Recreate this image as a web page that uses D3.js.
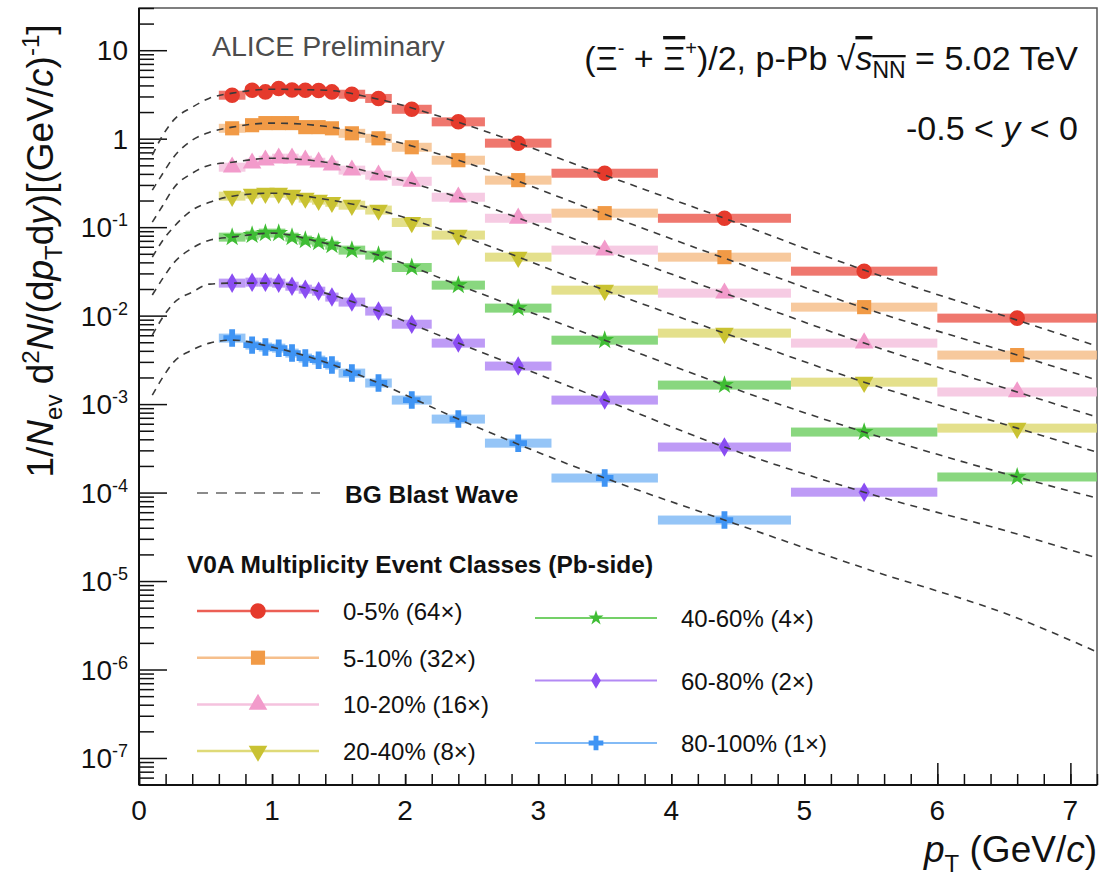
<!DOCTYPE html>
<html>
<head>
<meta charset="utf-8">
<script src="https://cdn.jsdelivr.net/npm/d3@7"></script>
<style>
  body { margin: 0; background: #fff; }
  text { font-family: "Liberation Sans", Arial, Helvetica, sans-serif; }
</style>
</head>
<body>
<svg id="chart" width="1100" height="883"></svg>
<script>
// pT bins (GeV/c) and bin centres
const ptEdges = [0.6, 0.8, 0.9, 1.0, 1.1, 1.2, 1.3, 1.4, 1.5, 1.7, 1.9, 2.2, 2.6, 3.1, 3.9, 4.9, 6.0, 7.2];
const ptCenters = [0.7, 0.85, 0.95, 1.05, 1.15, 1.25, 1.35, 1.45, 1.6, 1.8, 2.05, 2.4, 2.85, 3.5, 4.4, 5.45, 6.6];

// spectra per multiplicity class (already scaled)
const yield0to5 = [3.10, 3.53, 3.38, 3.69, 3.55, 3.53, 3.50, 3.38, 3.18, 2.85, 2.15, 1.55, 0.89, 0.407, 0.126, 0.0318, 0.00937];
const yield5to10 = [1.31, 1.42, 1.50, 1.50, 1.50, 1.35, 1.35, 1.31, 1.15, 1.01, 0.80, 0.571, 0.340, 0.144, 0.0458, 0.01247, 0.00358];
const yield10to20 = [0.476, 0.528, 0.571, 0.602, 0.602, 0.571, 0.542, 0.502, 0.441, 0.387, 0.33, 0.218, 0.126, 0.0550, 0.01795, 0.00489, 0.00137];
const yield20to40 = [0.224, 0.236, 0.242, 0.242, 0.230, 0.213, 0.202, 0.191, 0.177, 0.156, 0.113, 0.0813, 0.0458, 0.0194, 0.00634, 0.00177, 0.000535];
const yield40to60 = [0.0771, 0.0813, 0.0856, 0.0856, 0.0771, 0.0713, 0.0677, 0.0626, 0.0550, 0.0483, 0.035, 0.0221, 0.01216, 0.00528, 0.00164, 0.000483, 0.000150];
const yield60to80 = [0.0233, 0.0239, 0.0239, 0.0233, 0.0215, 0.0199, 0.0189, 0.0162, 0.01422, 0.01125, 0.0080, 0.00489, 0.00269, 0.00111, 0.000327, 0.000101];
const yield80to100 = [0.00557, 0.00464, 0.00441, 0.00429, 0.00377, 0.00331, 0.00314, 0.00276, 0.00224, 0.00173, 0.00111, 0.000677, 0.000362, 0.000146, 0.0000489];

// BG blast wave curves
const bgwPt = [0.1, 0.18, 0.26, 0.4, 0.53, 0.7, 1.0, 1.4, 1.8, 2.4, 3.5, 4.4, 5.45, 6.6, 7.2];
const bgw0to5 = [0.652, 1.10, 1.62, 2.27, 2.87, 3.27, 3.62, 3.53, 2.79, 1.53, 0.387, 0.126, 0.0327, 0.00889, 0.00452];
const bgw5to10 = [0.262, 0.407, 0.618, 0.962, 1.18, 1.35, 1.50, 1.38, 1.04, 0.571, 0.140, 0.0446, 0.01216, 0.00358, 0.00187];
const bgw10to20 = [0.114, 0.177, 0.276, 0.407, 0.502, 0.542, 0.602, 0.542, 0.397, 0.218, 0.0550, 0.01795, 0.00489, 0.00137, 0.000713];
const bgw20to40 = [0.0458, 0.0713, 0.100, 0.156, 0.191, 0.224, 0.242, 0.207, 0.156, 0.0813, 0.0194, 0.00634, 0.00177, 0.000535, 0.000287];
const bgw40to60 = [0.0171, 0.0265, 0.0392, 0.0579, 0.0713, 0.0771, 0.0856, 0.0659, 0.0483, 0.0221, 0.00528, 0.00164, 0.000483, 0.000150, 0.0000867];
const bgw60to80 = [0.00603, 0.00962, 0.01384, 0.01845, 0.0227, 0.0233, 0.0233, 0.01795, 0.01125, 0.00489, 0.00111, 0.000327, 0.000101, 0.0000340, 0.0000182];
const bgw80to100 = [0.00126, 0.00202, 0.00298, 0.00408, 0.00489, 0.00528, 0.00441, 0.00298, 0.00173, 0.000677, 0.000146, 0.0000489, 0.0000140, 0.00000382, 0.00000158];

const classLabels = ["0-5% (64×)", "5-10% (32×)", "10-20% (16×)", "20-40% (8×)", "40-60% (4×)", "60-80% (2×)", "80-100% (1×)"];
const xTicks = [0, 1, 2, 3, 4, 5, 6, 7];
const yTickExp = [-7, -6, -5, -4, -3, -2, -1, 0, 1];

const series = [
  { label: classLabels[0], values: yield0to5, bgw: bgw0to5, color: "#e53a2c", box: "#ec5f55", symbol: d3.symbolCircle, size: 190, legSize: 190, rot: 0 },
  { label: classLabels[1], values: yield5to10, bgw: bgw5to10, color: "#f19a46", box: "#f6bf8c", symbol: d3.symbolSquare, size: 200, legSize: 200, rot: 0 },
  { label: classLabels[2], values: yield10to20, bgw: bgw10to20, color: "#f29bcb", box: "#f5c2de", symbol: d3.symbolTriangle, size: 150, legSize: 150, rot: 0 },
  { label: classLabels[3], values: yield20to40, bgw: bgw20to40, color: "#c9c232", box: "#dfda78", symbol: d3.symbolTriangle, size: 150, legSize: 150, rot: 180 },
  { label: classLabels[4], values: yield40to60, bgw: bgw40to60, color: "#3fbd34", box: "#74d068", symbol: d3.symbolStar, size: 110, legSize: 70, rot: 0 },
  { label: classLabels[5], values: yield60to80, bgw: bgw60to80, color: "#8a4df2", box: "#b38af4", symbol: d3.symbolDiamond, size: 110, legSize: 80, rot: 0 },
  { label: classLabels[6], values: yield80to100, bgw: bgw80to100, color: "#3f94f4", box: "#83bbf6", symbol: d3.symbolCross, size: 170, legSize: 120, rot: 0 }
];

const svg = d3.select("#chart");
const plotLeft = 139, plotRight = 1097, plotTop = 8, plotBottom = 785;

const x = d3.scaleLinear().domain([0, 7.2]).range([plotLeft, plotRight]);
const y = d3.scaleLog().domain([4.95e-8, 30]).range([plotBottom, plotTop]);

// frame
svg.append("rect")
  .attr("x", plotLeft).attr("y", plotTop)
  .attr("width", plotRight - plotLeft).attr("height", plotBottom - plotTop)
  .attr("fill", "none").attr("stroke", "#555").attr("stroke-width", 1.5);

// x axis: minor + major ticks (inside)
let xMinor = d3.range(0, 7.21, 0.2).map((v) => +v.toFixed(1));
svg.append("g")
  .attr("transform", "translate(0," + plotBottom + ")")
  .call(d3.axisBottom(x).tickValues(xMinor).tickSize(-11).tickFormat(""))
  .call((g) => g.select(".domain").remove());
svg.append("g")
  .attr("transform", "translate(0," + plotBottom + ")")
  .call(d3.axisBottom(x).tickValues(xTicks).tickSize(-22).tickFormat(""))
  .call((g) => g.select(".domain").remove());

// y axis: minor + major ticks (inside)
let yMinor = [];
for (let e = -8; e <= 1; e++) {
  for (let m = 2; m <= 9; m++) {
    let v = m * Math.pow(10, e);
    if (v >= 4.95e-8 && v <= 30) yMinor.push(v);
  }
}
svg.append("g")
  .attr("transform", "translate(" + plotLeft + ",0)")
  .call(d3.axisLeft(y).tickValues(yMinor).tickSize(-15).tickFormat(""))
  .call((g) => g.select(".domain").remove());
svg.append("g")
  .attr("transform", "translate(" + plotLeft + ",0)")
  .call(d3.axisLeft(y).tickValues(yTickExp.map((e) => Math.pow(10, e))).tickSize(-28).tickFormat(""))
  .call((g) => g.select(".domain").remove());
svg.selectAll(".tick line").attr("stroke", "#111").attr("stroke-width", 1.5);

// axis lines
svg.append("line").attr("x1", plotLeft).attr("x2", plotRight).attr("y1", plotBottom).attr("y2", plotBottom)
  .attr("stroke", "#111").attr("stroke-width", 2);
svg.append("line").attr("x1", plotLeft).attr("x2", plotLeft).attr("y1", plotTop).attr("y2", plotBottom)
  .attr("stroke", "#111").attr("stroke-width", 2);

// tick labels
svg.selectAll(".xlab")
  .data(xTicks)
  .enter().append("text")
  .attr("x", (d) => x(d))
  .attr("y", 820)
  .attr("text-anchor", "middle")
  .attr("font-size", 28)
  .attr("fill", "#111")
  .text((d) => d);

yTickExp.forEach((e) => {
  let t = svg.append("text")
    .attr("x", 128)
    .attr("y", y(Math.pow(10, e)) + 10)
    .attr("text-anchor", "end")
    .attr("font-size", 28)
    .attr("fill", "#111");
  if (e === 0) t.text("1");
  else if (e === 1) t.text("10");
  else {
    t.append("tspan").text("10");
    t.append("tspan").attr("dy", -11).attr("font-size", 18).text("-" + (-e));
  }
});

// axis titles
let yt = svg.append("text")
  .attr("transform", "translate(53,251) rotate(-90)")
  .attr("text-anchor", "middle")
  .attr("font-size", 37)
  .attr("fill", "#111");
yt.append("tspan").text("1/");
yt.append("tspan").attr("font-style", "italic").text("N");
yt.append("tspan").attr("font-size", 24).attr("dy", 9).text("ev");
yt.append("tspan").attr("dy", -9).text(" d");
yt.append("tspan").attr("font-size", 24).attr("dy", -14).text("2");
yt.append("tspan").attr("dy", 14).attr("font-style", "italic").text("N");
yt.append("tspan").text("/(d");
yt.append("tspan").attr("font-style", "italic").text("p");
yt.append("tspan").attr("font-size", 24).attr("dy", 9).text("T");
yt.append("tspan").attr("dy", -9).text("d");
yt.append("tspan").attr("font-style", "italic").text("y");
yt.append("tspan").text(")[(GeV/");
yt.append("tspan").attr("font-style", "italic").text("c");
yt.append("tspan").text(")");
yt.append("tspan").attr("font-size", 24).attr("dy", -14).text("-1");
yt.append("tspan").attr("dy", 14).text("]");

let xt = svg.append("text")
  .attr("x", 1097).attr("y", 862)
  .attr("text-anchor", "end")
  .attr("font-size", 37)
  .attr("fill", "#111");
xt.append("tspan").attr("font-style", "italic").text("p");
xt.append("tspan").attr("font-size", 24).attr("dy", 10).text("T");
xt.append("tspan").attr("dy", -10).text(" (GeV/");
xt.append("tspan").attr("font-style", "italic").text("c");
xt.append("tspan").text(")");

// legend background masks the lower part of the x major ticks
svg.append("rect")
  .attr("x", 182).attr("y", 470).attr("width", 720).attr("height", 304)
  .attr("fill", "#fff");

// systematic boxes
series.forEach((s) => {
  svg.append("g").selectAll("rect")
    .data(s.values)
    .enter().append("rect")
    .attr("x", (d, i) => x(ptEdges[i]))
    .attr("width", (d, i) => x(ptEdges[i + 1]) - x(ptEdges[i]))
    .attr("y", (d) => y(d) - 4.5)
    .attr("height", 9)
    .attr("fill", s.box)
    .attr("opacity", 0.85);
});

// markers
series.forEach((s) => {
  svg.append("g").selectAll("path")
    .data(s.values)
    .enter().append("path")
    .attr("d", d3.symbol().type(s.symbol).size(s.size))
    .attr("transform", (d, i) => "translate(" + x(ptCenters[i]) + "," + y(d) + ") rotate(" + s.rot + ")")
    .attr("fill", s.color);
});

// blast wave curves
let bgLine = d3.line()
  .x((d) => x(d[0]))
  .y((d) => y(d[1]))
  .curve(d3.curveMonotoneX);
series.forEach((s) => {
  svg.append("path")
    .datum(bgwPt.map((p, i) => [p, s.bgw[i]]))
    .attr("d", bgLine)
    .attr("fill", "none")
    .attr("stroke", "#3a3a3a")
    .attr("stroke-width", 1.6)
    .attr("stroke-dasharray", "7,6");
});

// labels inside the frame
svg.append("text")
  .attr("x", 212).attr("y", 56)
  .attr("font-size", 28.5)
  .attr("fill", "#4d4d4d")
  .text("ALICE Preliminary");

let head = svg.append("text")
  .attr("x", 1078).attr("y", 70)
  .attr("text-anchor", "end")
  .attr("font-size", 34)
  .attr("fill", "#111");
head.append("tspan").text("(Ξ");
head.append("tspan").attr("font-size", 20).attr("dy", -15).text("-");
head.append("tspan").attr("dy", 15).text(" + ");
head.append("tspan").style("text-decoration", "overline").text("Ξ");
head.append("tspan").attr("font-size", 20).attr("dy", -15).text("+");
head.append("tspan").attr("dy", 15).text(")/2, p-Pb √");
head.append("tspan").attr("font-style", "italic").style("text-decoration", "overline").text("s");
head.append("tspan").attr("font-size", 23).attr("dy", 8).style("text-decoration", "overline").text("NN");
head.append("tspan").attr("dy", -8).text(" = 5.02 TeV");

let rap = svg.append("text")
  .attr("x", 1078).attr("y", 140)
  .attr("text-anchor", "end")
  .attr("font-size", 34)
  .attr("fill", "#111");
rap.append("tspan").text("-0.5 < ");
rap.append("tspan").attr("font-style", "italic").text("y");
rap.append("tspan").text(" < 0");

// legend
svg.append("line")
  .attr("x1", 197).attr("x2", 320).attr("y1", 493).attr("y2", 493)
  .attr("stroke", "#666").attr("stroke-width", 1.6).attr("stroke-dasharray", "11,8");
svg.append("text")
  .attr("x", 345).attr("y", 503)
  .attr("font-size", 24.5).attr("font-weight", "bold").attr("fill", "#111")
  .text("BG Blast Wave");
svg.append("text")
  .attr("x", 187).attr("y", 573)
  .attr("font-size", 24.5).attr("font-weight", "bold").attr("fill", "#111")
  .text("V0A Multiplicity Event Classes (Pb-side)");

series.forEach((s, i) => {
  let col = i < 4 ? 0 : 1;
  let row = i < 4 ? i : i - 4;
  let lx = col === 0 ? 197 : 535;
  let ly = col === 0 ? 611 + row * 46.7 : 618 + row * 62.5;
  let g = svg.append("g").attr("class", "legend");
  g.append("line")
    .attr("x1", lx).attr("x2", lx + 122).attr("y1", ly).attr("y2", ly)
    .attr("stroke", s.box).attr("stroke-width", col === 0 ? 2.5 : 2);
  g.append("path")
    .attr("d", d3.symbol().type(s.symbol).size(s.legSize))
    .attr("transform", "translate(" + (lx + 61) + "," + ly + ") rotate(" + s.rot + ")")
    .attr("fill", s.color);
  g.append("text")
    .attr("x", lx + 146).attr("y", ly + 9)
    .attr("font-size", 24).attr("fill", "#111")
    .text(s.label);
});
</script>
</body>
</html>
